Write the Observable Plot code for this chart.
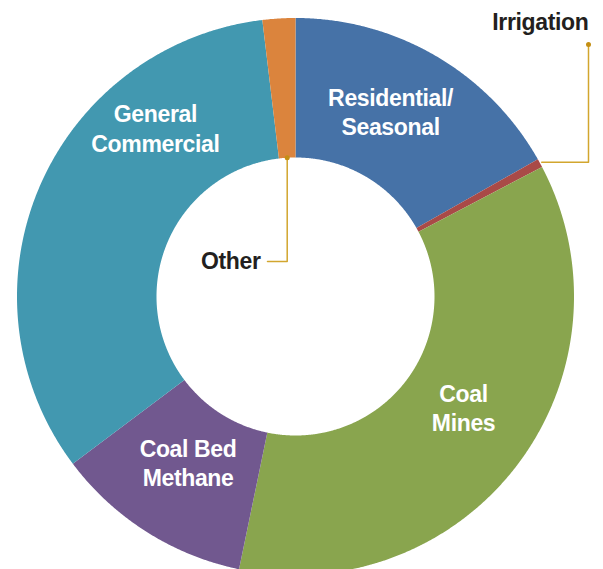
<!DOCTYPE html>
<html><head><meta charset="utf-8">
<script src="https://cdn.jsdelivr.net/npm/d3@7"></script>
<script src="https://cdn.jsdelivr.net/npm/@observablehq/plot@0.6"></script>
<style>body{margin:0;background:#fff} text{letter-spacing:-0.35px}</style>
</head><body><div id="chart"></div>
<script>
// ---- data ----
const categories = ["Residential/Seasonal", "Irrigation", "Coal Mines", "Coal Bed Methane", "General Commercial", "Other"];
const shares = [16.8, 0.5, 35.95, 11.5, 33.35, 1.9];
const colors = ["#4672a7", "#a94a47", "#89a54e", "#71588f", "#4298b0", "#db843d"];
const insideLabels = ["Residential/\nSeasonal", "", "Coal\nMines", "Coal Bed\nMethane", "General\nCommercial", ""];

// ---- layout ----
const W = 603, H = 569, cx = 295, cy = 296, R = 278.5, r0 = 139;
// inside label placement: [angle in degrees clockwise from top, radius px]
const labelPlacement = [[27.4, 206.6], null, [123.9, 202.5], [212.6, 199.4], [320.0, 217.9], null];

const table = categories.map((name, i) => ({name, value: shares[i], i}));
const arcs = d3.pie().sort(null).value(d => d.value)(table);
const pt = (a, rad) => ({x: cx + rad * Math.sin(a), y: cy - rad * Math.cos(a)});

const slicePts = [];
for (const a of arcs) {
  const n = Math.max(2, Math.ceil((a.endAngle - a.startAngle) / 0.005));
  for (let k = 0; k <= n; k++) {
    const t = a.startAngle + (a.endAngle - a.startAngle) * k / n;
    slicePts.push({name: a.data.name, ...pt(t, R)});
  }
  for (let k = n; k >= 0; k--) {
    const t = a.startAngle + (a.endAngle - a.startAngle) * k / n;
    slicePts.push({name: a.data.name, ...pt(t, r0)});
  }
}

const labels = [];
arcs.forEach((a, i) => {
  if (!labelPlacement[i]) return;
  const [deg, rad] = labelPlacement[i];
  labels.push({text: insideLabels[i], ...pt(deg * Math.PI / 180, rad)});
});

const mid = a => (a.startAngle + a.endAngle) / 2;
const irr = arcs[1], oth = arcs[5];
const irrStart = pt(mid(irr), R + 2);
const othStart = pt(mid(oth), r0);
const leaderIrr = [irrStart, {x: 588, y: irrStart.y}, {x: 588, y: 44}].map(d => ({...d, g: "irr"}));
const leaderOth = [othStart, {x: othStart.x, y: 261}, {x: 267, y: 261}].map(d => ({...d, g: "oth"}));
const leaders = [...leaderIrr, ...leaderOth];
const leaderDots = [leaderIrr[2], leaderOth[0]];
const outsideLabels = [
  {text: "Irrigation", x: 588, y: 22},
  {text: "Other", x: 260, y: 261}
];

const font = "'Liberation Sans', Arial, Helvetica, sans-serif";
const chart = Plot.plot({
  width: W, height: H,
  margin: 0,
  x: {domain: [0, W], range: [0, W], axis: null},
  y: {domain: [0, H], range: [0, H], axis: null},
  color: {domain: categories, range: colors},
  style: {fontFamily: font, background: "white"},
  marks: [
    Plot.line(slicePts, {x: "x", y: "y", z: "name", fill: "name", stroke: null, curve: "linear-closed"}),
    Plot.line(leaders, {x: "x", y: "y", z: "g", stroke: "#d2a62e", strokeWidth: 1.5}),
    Plot.dot(leaderDots, {x: "x", y: "y", r: 2.5, fill: "#c48f14"}),
    Plot.text(labels, {x: "x", y: "y", dy: -2, text: "text", fill: "white", fontSize: 23, fontWeight: "bold", lineHeight: 1.27, textAnchor: "middle", fontFamily: font}),
    Plot.text(outsideLabels, {x: "x", y: "y", text: "text", fill: "#231f20", fontSize: 23, fontWeight: "bold", textAnchor: "end", fontFamily: font})
  ]
});
document.getElementById("chart").appendChild(chart);
</script>
</body></html>
